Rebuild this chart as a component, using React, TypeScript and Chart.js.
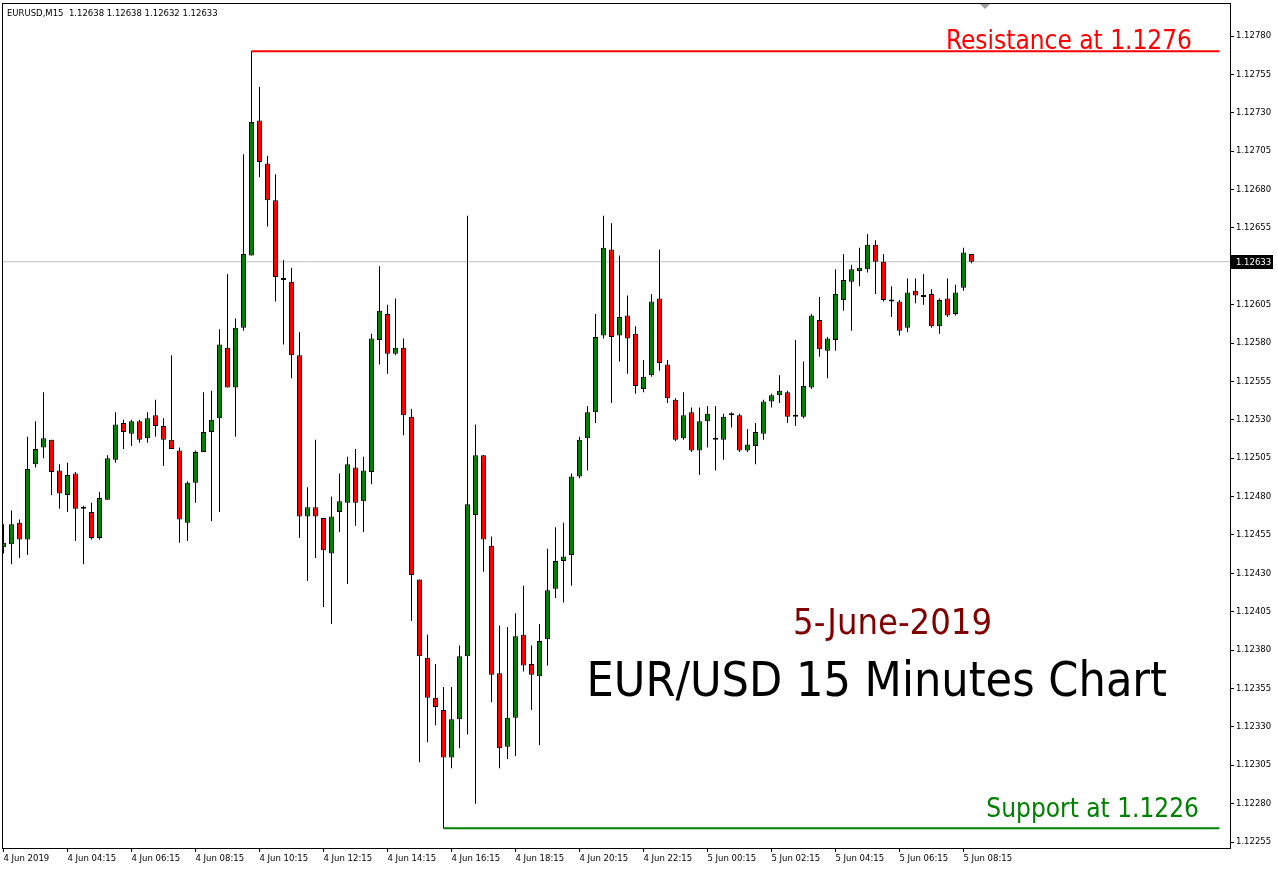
import { useEffect, useRef } from 'react';
import { Chart, registerables } from 'chart.js';

Chart.register(...registerables);

const chartHeader = 'EURUSD,M15  1.12638 1.12638 1.12632 1.12633';

const openPrices = [
  1.12447, 1.12449, 1.12463, 1.12452, 1.12501, 1.12512, 1.12517, 1.12497, 1.12481, 1.12495,
  1.12472, 1.12470, 1.12453, 1.12478, 1.12504, 1.12528, 1.12521, 1.12529, 1.12518, 1.12533,
  1.12526, 1.12517, 1.12510, 1.12463, 1.12489, 1.12509, 1.12522, 1.12531, 1.12577, 1.12551,
  1.12590, 1.12637, 1.12725, 1.12697, 1.12673, 1.12622, 1.12620, 1.12572, 1.12467, 1.12473,
  1.12466, 1.12443, 1.12470, 1.12476, 1.12499, 1.12477, 1.12496, 1.12582, 1.12599, 1.12573,
  1.12577, 1.12532, 1.12426, 1.12375, 1.12349, 1.12341, 1.12310, 1.12335, 1.12376, 1.12468,
  1.12507, 1.12448, 1.12365, 1.12317, 1.12336, 1.12390, 1.12371, 1.12363, 1.12387, 1.12420,
  1.12438, 1.12442, 1.12493, 1.12518, 1.12535, 1.12585, 1.12641, 1.12585, 1.12598, 1.12586,
  1.12550, 1.12559, 1.12609, 1.12566, 1.12543, 1.12518, 1.12535, 1.12510, 1.12529, 1.12517,
  1.12517, 1.12533, 1.12533, 1.12510, 1.12513, 1.12521, 1.12542, 1.12546, 1.12548, 1.12532,
  1.12532, 1.12551, 1.12595, 1.12575, 1.12582, 1.12608, 1.12620, 1.12627, 1.12628, 1.12644,
  1.12633, 1.12607, 1.12607, 1.12590, 1.12614, 1.12610, 1.12612, 1.12591, 1.12609, 1.12599,
  1.12616, 1.12638,
];

const highPrices = [
  1.12462, 1.12471, 1.12465, 1.12519, 1.12529, 1.12548, 1.12517, 1.12501, 1.12502, 1.12496,
  1.12474, 1.12476, 1.12483, 1.12507, 1.12535, 1.12530, 1.12530, 1.12530, 1.12535, 1.12543,
  1.12531, 1.12572, 1.12512, 1.12490, 1.12510, 1.12548, 1.12549, 1.12589, 1.12625, 1.12596,
  1.12703, 1.12770, 1.12747, 1.12702, 1.12690, 1.12634, 1.12629, 1.12587, 1.12486, 1.12517,
  1.12466, 1.12480, 1.12495, 1.12506, 1.12511, 1.12506, 1.12586, 1.12630, 1.12605, 1.12609,
  1.12583, 1.12537, 1.12426, 1.12390, 1.12371, 1.12356, 1.12356, 1.12383, 1.12663, 1.12527,
  1.12507, 1.12454, 1.12396, 1.12395, 1.12404, 1.12422, 1.12383, 1.12397, 1.12446, 1.12460,
  1.12463, 1.12495, 1.12519, 1.12539, 1.12599, 1.12663, 1.12658, 1.12637, 1.12611, 1.12591,
  1.12569, 1.12612, 1.12641, 1.12569, 1.12544, 1.12548, 1.12538, 1.12538, 1.12539, 1.12539,
  1.12534, 1.12535, 1.12534, 1.12524, 1.12528, 1.12543, 1.12547, 1.12559, 1.12549, 1.12582,
  1.12568, 1.12599, 1.12610, 1.12584, 1.12628, 1.12638, 1.12631, 1.12642, 1.12651, 1.12647,
  1.12638, 1.12617, 1.12608, 1.12622, 1.12622, 1.12625, 1.12615, 1.12609, 1.12622, 1.12618,
  1.12642, 1.12638,
];

const lowPrices = [
  1.12443, 1.12436, 1.12440, 1.12442, 1.12499, 1.12505, 1.12481, 1.12472, 1.12470, 1.12451,
  1.12436, 1.12452, 1.12452, 1.12478, 1.12502, 1.12511, 1.12513, 1.12515, 1.12515, 1.12519,
  1.12500, 1.12511, 1.12450, 1.12451, 1.12476, 1.12509, 1.12464, 1.12470, 1.12551, 1.12519,
  1.12588, 1.12637, 1.12688, 1.12656, 1.12607, 1.12579, 1.12557, 1.12453, 1.12425, 1.12440,
  1.12408, 1.12397, 1.12457, 1.12423, 1.12461, 1.12457, 1.12488, 1.12566, 1.12560, 1.12572,
  1.12520, 1.12399, 1.12307, 1.12320, 1.12331, 1.12264, 1.12303, 1.12316, 1.12325, 1.12280,
  1.12431, 1.12346, 1.12303, 1.12309, 1.12311, 1.12366, 1.12341, 1.12318, 1.12370, 1.12414,
  1.12411, 1.12422, 1.12492, 1.12497, 1.12528, 1.12583, 1.12541, 1.12568, 1.12560, 1.12547,
  1.12548, 1.12558, 1.12562, 1.12541, 1.12516, 1.12517, 1.12509, 1.12494, 1.12512, 1.12497,
  1.12504, 1.12525, 1.12509, 1.12509, 1.12501, 1.12517, 1.12538, 1.12541, 1.12528, 1.12526,
  1.12531, 1.12550, 1.12571, 1.12557, 1.12575, 1.12601, 1.12588, 1.12617, 1.12626, 1.12612,
  1.12607, 1.12597, 1.12585, 1.12587, 1.12606, 1.12605, 1.12590, 1.12586, 1.12597, 1.12598,
  1.12614, 1.12632,
];

const closePrices = [
  1.12450, 1.12462, 1.12452, 1.12498, 1.12511, 1.12518, 1.12496, 1.12482, 1.12494, 1.12472,
  1.12472, 1.12453, 1.12479, 1.12505, 1.12527, 1.12522, 1.12529, 1.12517, 1.12531, 1.12526,
  1.12517, 1.12511, 1.12465, 1.12489, 1.12509, 1.12522, 1.12530, 1.12579, 1.12551, 1.12590,
  1.12638, 1.12724, 1.12698, 1.12673, 1.12623, 1.12621, 1.12572, 1.12467, 1.12473, 1.12467,
  1.12445, 1.12467, 1.12477, 1.12501, 1.12476, 1.12497, 1.12583, 1.12601, 1.12573, 1.12577,
  1.12533, 1.12429, 1.12376, 1.12349, 1.12343, 1.12310, 1.12335, 1.12376, 1.12475, 1.12507,
  1.12452, 1.12364, 1.12316, 1.12336, 1.12389, 1.12370, 1.12364, 1.12386, 1.12419, 1.12438,
  1.12441, 1.12493, 1.12517, 1.12535, 1.12584, 1.12642, 1.12584, 1.12597, 1.12583, 1.12552,
  1.12558, 1.12607, 1.12567, 1.12544, 1.12517, 1.12533, 1.12510, 1.12529, 1.12534, 1.12517,
  1.12532, 1.12533, 1.12510, 1.12514, 1.12522, 1.12542, 1.12546, 1.12549, 1.12532, 1.12532,
  1.12552, 1.12598, 1.12576, 1.12583, 1.12612, 1.12621, 1.12628, 1.12629, 1.12644, 1.12633,
  1.12608, 1.12607, 1.12588, 1.12613, 1.12611, 1.12610, 1.12591, 1.12608, 1.12598, 1.12613,
  1.12639, 1.12633,
];

const timeTickIndex = [0, 8, 16, 24, 32, 40, 48, 56, 64, 72, 80, 88, 96, 104, 112, 120];
const timeTickLabels = [
  '4 Jun 2019', '4 Jun 04:15', '4 Jun 06:15', '4 Jun 08:15', '4 Jun 10:15', '4 Jun 12:15',
  '4 Jun 14:15', '4 Jun 16:15', '4 Jun 18:15', '4 Jun 20:15', '4 Jun 22:15', '5 Jun 00:15',
  '5 Jun 02:15', '5 Jun 04:15', '5 Jun 06:15', '5 Jun 08:15',
];

const priceTicks = [
  1.12255, 1.1228, 1.12305, 1.1233, 1.12355, 1.1238, 1.12405, 1.1243, 1.12455, 1.1248, 1.12505,
  1.1253, 1.12555, 1.1258, 1.12605, 1.1263, 1.12655, 1.1268, 1.12705, 1.1273, 1.12755, 1.1278,
];

const resistanceLevel = 1.1277;
const resistanceFrom = 31;
const resistanceLabel = 'Resistance at 1.1276';
const supportLevel = 1.12264;
const supportFrom = 55;
const supportLabel = 'Support at 1.1226';
const levelLineTo = 152;
const currentPrice = 1.12633;
const currentPriceLabel = '1.12633';
const dateText = '5-June-2019';
const titleText = 'EUR/USD 15 Minutes Chart';

const tickFont = { family: '"DejaVu Sans", sans-serif', size: 8.5 };
const bigFamily = '"DejaVu Sans Condensed", "DejaVu Sans", sans-serif';

const overlayPlugin = {
  id: 'overlay',
  afterDraw(chart: any) {
    const { ctx, chartArea: a, scales } = chart;
    ctx.save();
    // frame
    ctx.strokeStyle = '#000';
    ctx.lineWidth = 1;
    ctx.strokeRect(a.left + 0.5, a.top + 0.5, a.right - a.left, a.bottom - a.top);

    // header
    ctx.fillStyle = '#000';
    ctx.font = '8.5px "DejaVu Sans", sans-serif';
    ctx.textAlign = 'left';
    ctx.textBaseline = 'alphabetic';
    ctx.fillText(chartHeader, 7, 16);

    // shift marker
    ctx.fillStyle = '#a0a0a0';
    ctx.beginPath();
    ctx.moveTo(980, a.top + 1);
    ctx.lineTo(990, a.top + 1);
    ctx.lineTo(985, a.top + 6);
    ctx.closePath();
    ctx.fill();

    // current price box
    const py = scales.y.getPixelForValue(currentPrice);
    ctx.fillStyle = '#000';
    ctx.fillRect(a.right + 1, Math.round(py) - 7, 42, 14);
    ctx.fillStyle = '#fff';
    ctx.font = '8.5px "DejaVu Sans", sans-serif';
    ctx.textBaseline = 'middle';
    ctx.fillText(currentPriceLabel, a.right + 6, Math.round(py) + 0.5);

    // annotations
    (ctx as any).fontStretch = 'condensed';
    ctx.textAlign = 'right';
    ctx.textBaseline = 'alphabetic';
    ctx.fillStyle = '#ff0000';
    ctx.font = `26px ${bigFamily}`;
    ctx.fillText(resistanceLabel, 1192, 49);
    ctx.fillStyle = '#008000';
    ctx.fillText(supportLabel, 1199, 817);
    ctx.fillStyle = '#800000';
    ctx.font = `36px ${bigFamily}`;
    ctx.fillText(dateText, 992, 634);
    ctx.fillStyle = '#000';
    ctx.font = `48px ${bigFamily}`;
    ctx.fillText(titleText, 1167, 696);
    ctx.restore();
  },
};

export default function App() {
  const ref = useRef<HTMLCanvasElement>(null);

  useEffect(() => {
    document.body.style.margin = '0';
    document.body.style.overflow = 'hidden';
    const canvas = ref.current;
    if (!canvas) return;

    const bodyColors = openPrices.map((o, i) =>
      closePrices[i] > o ? '#008000' : closePrices[i] < o ? '#ff0000' : '#000000'
    );

    const chart = new Chart(canvas, {
      type: 'bar',
      data: {
        datasets: [
          {
            type: 'bar',
            label: 'body',
            data: openPrices.map((o, i) => ({
              x: i,
              y: [Math.min(o, closePrices[i]), Math.max(o, closePrices[i])],
            })),
            backgroundColor: bodyColors,
            borderColor: '#000',
            borderWidth: 1,
            borderSkipped: false,
            barThickness: 5,
            minBarLength: 2,
            grouped: false,
            inflateAmount: 0,
            order: 0,
          } as any,
          {
            type: 'bar',
            label: 'wick',
            data: highPrices.map((h, i) => ({ x: i, y: [lowPrices[i], h] })),
            backgroundColor: '#000',
            borderWidth: 0,
            barThickness: 1,
            grouped: false,
            inflateAmount: 0,
            order: 1,
          } as any,
          {
            type: 'line',
            label: 'resistance',
            data: [
              { x: resistanceFrom, y: resistanceLevel },
              { x: levelLineTo, y: resistanceLevel },
            ],
            borderColor: '#ff0000',
            borderWidth: 2,
            pointRadius: 0,
            order: 2,
          } as any,
          {
            type: 'line',
            label: 'support',
            data: [
              { x: supportFrom, y: supportLevel },
              { x: levelLineTo, y: supportLevel },
            ],
            borderColor: '#008000',
            borderWidth: 2,
            pointRadius: 0,
            order: 2,
          } as any,
          {
            type: 'line',
            label: 'bid',
            data: [
              { x: -1, y: currentPrice },
              { x: 160, y: currentPrice },
            ],
            borderColor: '#c0c0c0',
            borderWidth: 1,
            pointRadius: 0,
            order: 3,
          } as any,
        ],
      },
      options: {
        responsive: false,
        animation: false,
        devicePixelRatio: 1,
        events: [],
        layout: { padding: { left: 2, top: 3, right: 0, bottom: 0 } },
        plugins: { legend: { display: false }, tooltip: { enabled: false } },
        scales: {
          x: {
            type: 'linear',
            min: -0.1875,
            max: 153.3125,
            offset: false,
            afterBuildTicks: (s: any) => {
              s.ticks = timeTickIndex.map((v) => ({ value: v }));
            },
            afterFit: (s: any) => {
              s.height = 23;
              s.paddingLeft = 0;
              s.paddingRight = 0;
            },
            ticks: {
              callback: (_v: any, i: number) => timeTickLabels[i],
              align: 'start',
              maxRotation: 0,
              autoSkip: false,
              color: '#000',
              font: tickFont,
              padding: 2,
            },
            grid: { drawOnChartArea: false, drawTicks: true, tickLength: 4, color: '#000', offset: false },
            border: { display: false },
          },
          y: {
            position: 'right',
            min: 1.122511,
            max: 1.128015,
            afterBuildTicks: (s: any) => {
              s.ticks = priceTicks.map((v) => ({ value: v }));
            },
            afterFit: (s: any) => {
              s.width = 48;
              s.paddingTop = 0;
              s.paddingBottom = 0;
            },
            ticks: {
              callback: (v: any) => Number(v).toFixed(5),
              color: '#000',
              font: tickFont,
              padding: 2,
            },
            grid: { drawOnChartArea: false, drawTicks: true, tickLength: 4, color: '#000' },
            border: { display: false },
          },
        },
      } as any,
      plugins: [overlayPlugin],
    });

    return () => chart.destroy();
  }, []);

  return (
    <canvas
      ref={ref}
      width={1278}
      height={871}
      style={{ display: 'block', width: 1278, height: 871, background: '#fff' }}
    />
  );
}
